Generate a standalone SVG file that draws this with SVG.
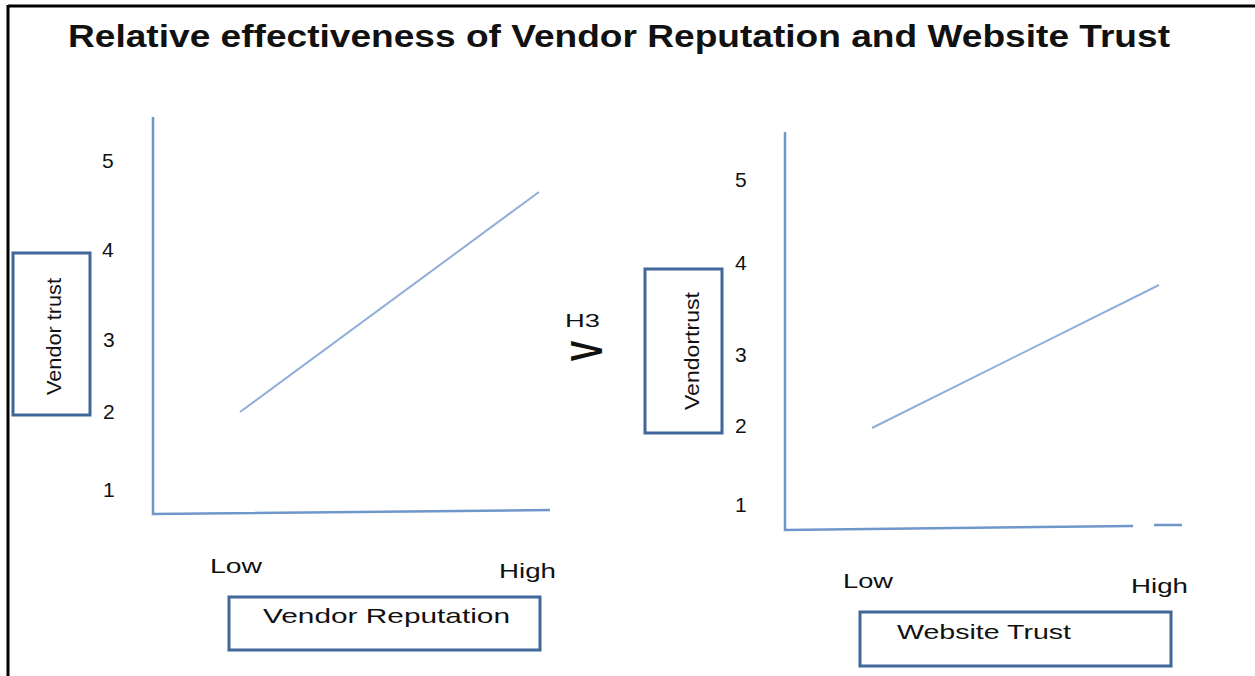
<svg xmlns="http://www.w3.org/2000/svg" width="1255" height="676" viewBox="0 0 1255 676">
<style>
.t{font-family:"Liberation Sans",Arial,sans-serif;fill:#111}
.num{font-size:21px}
.lbl{font-size:21px}
.box{fill:#fff;stroke:#41669a;stroke-width:3}
.axis{stroke:#6f97c9;stroke-width:2.5;fill:none}
.trend{stroke:#8eaed8;stroke-width:2;fill:none}
</style>
<rect width="1255" height="676" fill="#fff"/>
<g id="frame">
<line x1="8" y1="6" x2="1255" y2="6" stroke="#000" stroke-width="3"/>
<line x1="8" y1="5" x2="8" y2="676" stroke="#000" stroke-width="3"/>
</g>
<g id="title"><text class="t" x="68" y="47" font-size="31" font-weight="bold" textLength="1102" lengthAdjust="spacingAndGlyphs">Relative effectiveness of Vendor Reputation and Website Trust</text></g>
<g id="connectors">
<polyline class="axis" points="153,117 153,514 550,510"/>
<line class="trend" x1="240" y1="412" x2="539" y2="192"/>
<polyline class="axis" points="785,132 785,530 1133,526"/>
<line class="axis" x1="1154" y1="525" x2="1182" y2="525"/>
<line class="trend" x1="872" y1="428" x2="1159" y2="285"/>
</g>
<g id="left-ticks">
<text class="t num" x="102" y="168">5</text>
<text class="t num" x="102" y="257">4</text>
<text class="t num" x="103" y="347">3</text>
<text class="t num" x="103" y="419">2</text>
<text class="t num" x="103" y="497">1</text>
</g>
<g id="right-ticks">
<text class="t num" x="735" y="187">5</text>
<text class="t num" x="735" y="270">4</text>
<text class="t num" x="735" y="362">3</text>
<text class="t num" x="735" y="433">2</text>
<text class="t num" x="735" y="512">1</text>
</g>
<g id="left-ylabel">
<rect class="box" x="13" y="253" width="77" height="162"/>
<text class="t lbl" transform="translate(61,395) rotate(-90)" textLength="117" lengthAdjust="spacingAndGlyphs">Vendor trust</text>
</g>
<g id="right-ylabel">
<rect class="box" x="645" y="269" width="77" height="164"/>
<text class="t lbl" transform="translate(699,410) rotate(-90)" textLength="118" lengthAdjust="spacingAndGlyphs">Vendortrust</text>
</g>
<g id="left-xticks">
<text class="t lbl" x="210" y="573" textLength="52" lengthAdjust="spacingAndGlyphs">Low</text>
<text class="t lbl" x="499" y="578" textLength="57" lengthAdjust="spacingAndGlyphs">High</text>
</g>
<g id="right-xticks">
<text class="t lbl" x="843" y="588" textLength="50" lengthAdjust="spacingAndGlyphs">Low</text>
<text class="t lbl" x="1131" y="593" textLength="57" lengthAdjust="spacingAndGlyphs">High</text>
</g>
<g id="left-xlabel">
<rect class="box" x="229" y="597" width="311" height="53"/>
<text class="t lbl" x="263" y="623" font-size="22" textLength="247" lengthAdjust="spacingAndGlyphs">Vendor Reputation</text>
</g>
<g id="right-xlabel">
<rect class="box" x="860" y="612" width="311" height="54"/>
<text class="t lbl" x="897" y="639" font-size="22" textLength="174" lengthAdjust="spacingAndGlyphs">Website Trust</text>
</g>
<g id="h3">
<text class="t" x="565" y="327" font-size="18" textLength="35" lengthAdjust="spacingAndGlyphs">H3</text>
<text class="t" transform="translate(602,351) rotate(-90) scale(0.7,1)" font-size="44" text-anchor="middle" font-weight="bold">V</text>
</g>
</svg>
